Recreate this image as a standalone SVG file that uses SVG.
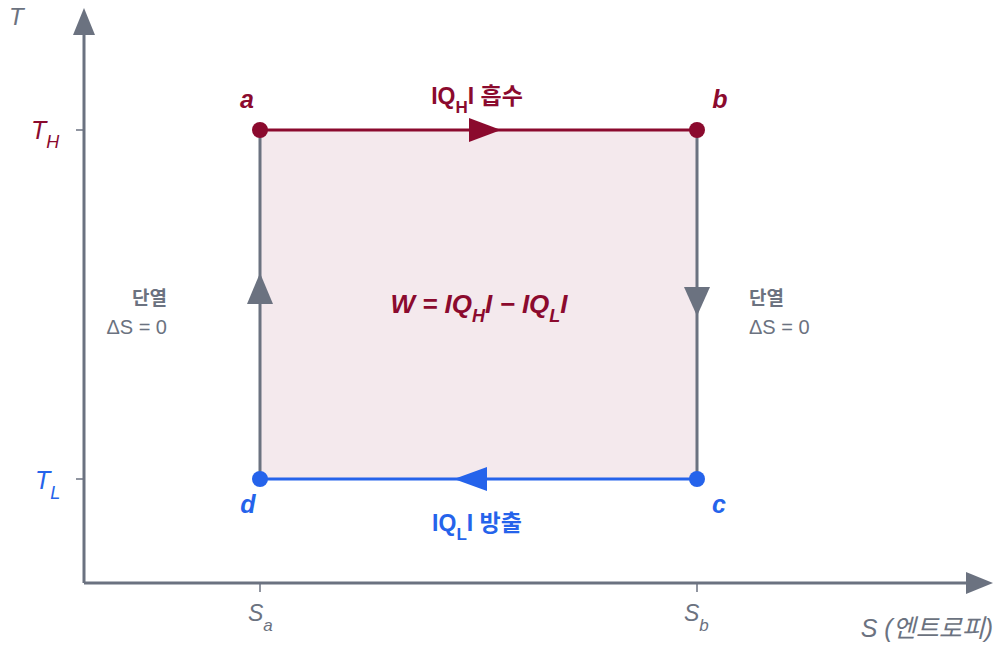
<svg xmlns="http://www.w3.org/2000/svg" width="998" height="646" viewBox="0 0 998 646">
<style>
text{font-family:"Liberation Sans","Noto Sans CJK KR",sans-serif}
.ax{stroke:#6b7280;stroke-width:3;fill:none}
.tick{stroke:#6b7280;stroke-width:1.5}
.gray{fill:#6b7280}
.red{fill:#8b0a2e}
.blue{fill:#2563eb}
.it{font-style:italic}
.b{font-weight:bold}
.lbl{font-size:23px;font-weight:bold}
</style>
<rect width="998" height="646" fill="#ffffff"/>
<g id="axes">
<line class="ax" x1="84" y1="583" x2="84" y2="30"/>
<polygon class="gray" points="84,8 73,35 95,35"/>
<line class="ax" x1="84" y1="583" x2="970" y2="583"/>
<polygon class="gray" points="993,583 966,572 966,594"/>
<line class="tick" x1="76" y1="130" x2="84" y2="130"/>
<line class="tick" x1="76" y1="479" x2="84" y2="479"/>
<line class="tick" x1="260" y1="583" x2="260" y2="592"/>
<line class="tick" x1="697" y1="583" x2="697" y2="592"/>
<text x="9" y="25" class="gray it" font-size="24">T</text>
<text x="31" y="139" class="red it" font-size="25">T<tspan font-size="18" dy="9">H</tspan></text>
<text x="35" y="489" class="blue it" font-size="25">T<tspan font-size="18" dy="10">L</tspan></text>
<text x="248" y="621" class="gray it" font-size="23">S<tspan font-size="17" dy="10">a</tspan></text>
<text x="684" y="621" class="gray it" font-size="23">S<tspan font-size="17" dy="10">b</tspan></text>
<text x="993" y="637" class="gray it" font-size="25" text-anchor="end">S (엔트로피)</text>
</g>
<g id="area">
<rect x="260" y="130" width="437" height="349" fill="#f4e9ed"/>
<text x="479" y="313" class="red it b" font-size="26" text-anchor="middle">W = IQ<tspan font-size="18" dy="9">H</tspan><tspan dy="-9">I − IQ</tspan><tspan font-size="18" dy="9">L</tspan><tspan dy="-9">I</tspan></text>
</g>
<g id="connectors">
<g id="edge-ab">
<line x1="260" y1="130" x2="697" y2="130" stroke="#8b0a2e" stroke-width="3"/>
<polygon class="red" points="501,130 469,118 469,142"/>
</g>
<g id="edge-bc">
<line x1="697" y1="130" x2="697" y2="479" stroke="#6b7280" stroke-width="3"/>
<polygon class="gray" points="697,316 684,287 710,287"/>
</g>
<g id="edge-cd">
<line x1="697" y1="479" x2="260" y2="479" stroke="#2563eb" stroke-width="3"/>
<polygon class="blue" points="454,479 487,467 487,491"/>
</g>
<g id="edge-da">
<line x1="260" y1="479" x2="260" y2="130" stroke="#6b7280" stroke-width="3"/>
<polygon class="gray" points="260,273 247,304 273,304"/>
</g>
</g>
<g id="node-a">
<circle cx="260" cy="130" r="8" class="red"/>
<text x="247" y="108" class="red it b" font-size="25" text-anchor="middle">a</text>
</g>
<g id="node-b">
<circle cx="697" cy="130" r="8" class="red"/>
<text x="720" y="108" class="red it b" font-size="25" text-anchor="middle">b</text>
</g>
<g id="node-c">
<circle cx="697" cy="479" r="8" class="blue"/>
<text x="719" y="513" class="blue it b" font-size="25" text-anchor="middle">c</text>
</g>
<g id="node-d">
<circle cx="260" cy="479" r="8" class="blue"/>
<text x="248" y="513" class="blue it b" font-size="25" text-anchor="middle">d</text>
</g>
<g id="labels">
<text x="477" y="104" class="red lbl" text-anchor="middle">IQ<tspan font-size="17" dy="9">H</tspan><tspan dy="-9">I 흡수</tspan></text>
<text x="477" y="531" class="blue lbl" text-anchor="middle">IQ<tspan font-size="17" dy="9">L</tspan><tspan dy="-9">I 방출</tspan></text>
<text x="167" y="305" class="gray b" font-size="19" text-anchor="end">단열</text>
<text x="167" y="334" class="gray" font-size="20" text-anchor="end">ΔS = 0</text>
<text x="749" y="305" class="gray b" font-size="19">단열</text>
<text x="749" y="334" class="gray" font-size="20">ΔS = 0</text>
</g>
</svg>
